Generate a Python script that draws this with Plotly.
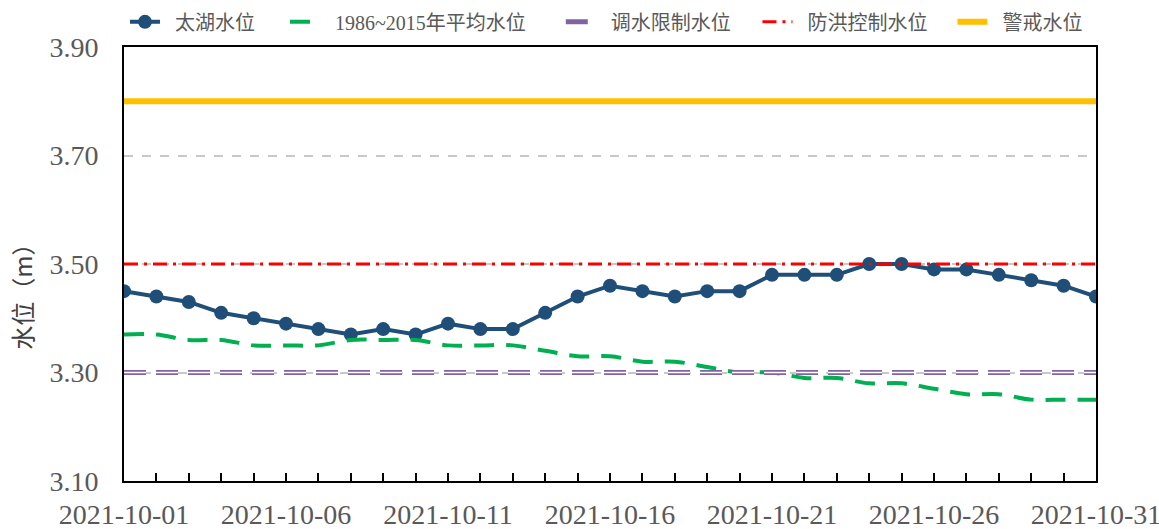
import plotly.graph_objects as go

dates = [f"2021-10-{d:02d}" for d in range(1, 32)]
taihu = [3.45, 3.44, 3.43, 3.41, 3.40, 3.39, 3.38, 3.37, 3.38, 3.37,
         3.39, 3.38, 3.38, 3.41, 3.44, 3.46, 3.45, 3.44, 3.45, 3.45,
         3.48, 3.48, 3.48, 3.50, 3.50, 3.49, 3.49, 3.48, 3.47, 3.46, 3.44]
avg = [3.37, 3.37, 3.36, 3.36, 3.35, 3.35, 3.35, 3.36, 3.36, 3.36,
       3.35, 3.35, 3.35, 3.34, 3.33, 3.33, 3.32, 3.32, 3.31, 3.30,
       3.30, 3.29, 3.29, 3.28, 3.28, 3.27, 3.26, 3.26, 3.25, 3.25, 3.25]
diversion_limit = 3.30
flood_control = 3.50
warning_level = 3.80

names = ["太湖水位", "1986~2015年平均水位", "调水限制水位", "防洪控制水位", "警戒水位"]
legend_lead = "\u2002"
legend_pad = ["\u2003\u2005", "\u2003\u2002", "\u2003\u200a", "\u2003", ""]
ytick_vals = [3.10, 3.30, 3.50, 3.70, 3.90]
xtick_vals = ["2021-10-01", "2021-10-06", "2021-10-11", "2021-10-16",
              "2021-10-21", "2021-10-26", "2021-10-31"]

SERIF = "Liberation Serif, Times New Roman, Noto Sans CJK SC, serif"


def legend_name(i):
    return legend_lead + names[i] + legend_pad[i]


fig = go.Figure()
fig.add_trace(go.Scatter(x=dates, y=taihu, name=legend_name(0), mode="lines+markers",
                         line=dict(color="#1F4E79", width=4),
                         marker=dict(size=14, color="#1F4E79")))
fig.add_trace(go.Scatter(x=dates, y=avg, name=legend_name(1), mode="lines",
                         line=dict(color="#00B050", width=4, dash="20px,12px", shape="spline")))
fig.add_trace(go.Scatter(x=dates, y=[diversion_limit] * len(dates), name=legend_name(2),
                         mode="lines", legendgroup="g2",
                         line=dict(color="#8064A2", width=5, dash="22px,10px")))
fig.add_trace(go.Scatter(x=dates, y=[diversion_limit] * len(dates), name=names[2], mode="lines",
                         legendgroup="g2", showlegend=False, hoverinfo="skip",
                         line=dict(color="white", width=1.5, dash="22px,10px")))
fig.add_trace(go.Scatter(x=dates, y=[flood_control] * len(dates), name=legend_name(3),
                         mode="lines",
                         line=dict(color="#FF0000", width=3, dash="14px,6px,3px,6px")))
fig.add_trace(go.Scatter(x=dates, y=[warning_level] * len(dates), name=legend_name(4),
                         mode="lines",
                         line=dict(color="#FFC000", width=6)))

fig.update_layout(
    width=1159, height=529,
    margin=dict(l=124, r=63, t=47, b=48, autoexpand=False),
    paper_bgcolor="white", plot_bgcolor="white",
    font=dict(family=SERIF, color="#595959"),
    legend=dict(orientation="h", x=0.001, xanchor="left", y=1.058, yanchor="middle",
                font=dict(family=SERIF, size=20, color="#595959"),
                bgcolor="rgba(0,0,0,0)", tracegroupgap=0, itemwidth=30),
    showlegend=True,
)
fig.update_xaxes(
    type="date", range=["2021-10-01", "2021-10-31"],
    tickvals=xtick_vals, tickformat="%Y-%m-%d",
    ticks="inside", ticklen=8, tickcolor="black", tickwidth=1.5,
    minor=dict(ticks="inside", ticklen=8, dtick=86400000, tick0="2021-10-01",
               tickcolor="black", tickwidth=1.5),
    showline=True, linecolor="black", linewidth=2, mirror=True,
    showgrid=False, ticklabelstandoff=7, ticklabeloverflow="allow",
    tickfont=dict(family=SERIF, size=28, color="#595959"),
)
fig.update_yaxes(
    range=[3.10, 3.90], tickvals=ytick_vals, tickformat=".2f",
    showline=True, linecolor="black", linewidth=2, mirror=True,
    showgrid=True, gridcolor="#C8C8C8", gridwidth=1.5, griddash="dash",
    ticks="", ticklabelstandoff=18, zeroline=False,
    tickfont=dict(family=SERIF, size=28, color="#595959"),
)
fig.add_annotation(text="水位（m）", xref="paper", yref="paper", x=-0.105, y=0.438,
                   showarrow=False, textangle=-90, xanchor="center", yanchor="middle",
                   font=dict(family="Noto Sans CJK SC", size=24, color="#404040"))
fig.write_html("out.html", config={"displayModeBar": False},
               post_script="document.body.style.margin='0';document.body.style.overflow='hidden';")
